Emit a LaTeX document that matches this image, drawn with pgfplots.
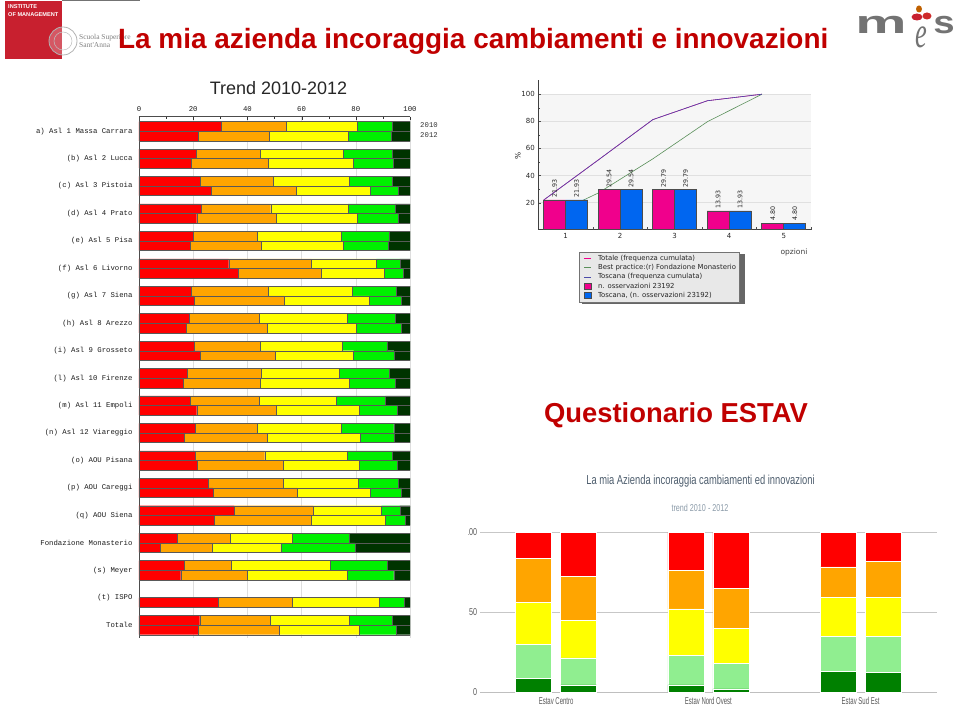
\documentclass[border=0pt]{standalone}
\usepackage{fontspec}
\usepackage{pgfplots}
\usepackage{pgfplotstable}
\pgfplotsset{compat=1.18}
\setmainfont{Liberation Sans}
\newfontfamily\mono{Liberation Mono}
\newfontfamily\dejavu{DejaVu Sans}
\newfontfamily\seriff{Liberation Serif}
\newcommand{\fs}[1]{\fontsize{#1pt}{#1pt}\selectfont}
\definecolor{cR}{HTML}{FF0000}
\definecolor{cO}{HTML}{FFA500}
\definecolor{cY}{HTML}{FFFF00}
\definecolor{cG}{HTML}{00F000}
\definecolor{cD}{HTML}{003300}
\definecolor{cLG}{HTML}{90EE90}
\definecolor{cDG}{HTML}{008000}
\definecolor{pinkb}{HTML}{F0008C}
\definecolor{blueb}{HTML}{0066F0}
\definecolor{titler}{HTML}{C00000}
\definecolor{logor}{HTML}{C8202F}
\definecolor{lineb}{HTML}{4A4AA8}
\definecolor{lineg}{HTML}{5A8F5A}
\definecolor{slate}{HTML}{4D5D6D}
\definecolor{slatel}{HTML}{8A9AA8}
\pgfplotstableread{
y v1 v2 v3 v4 v5
-0.175 30.4 24.0 26.1 13.1 6.4
0.175 21.9 26.1 29.2 15.8 7.0
0.825 21.2 23.6 30.6 17.9 6.7
1.175 19.2 28.5 31.4 14.7 6.2
1.825 22.7 26.8 28.1 15.7 6.7
2.175 26.7 31.3 27.3 10.5 4.2
2.825 23.0 25.6 28.6 17.3 5.5
3.175 21.3 29.4 30.0 15.1 4.2
3.825 20.0 23.6 30.9 17.7 7.8
4.175 19.0 26.1 30.3 16.7 7.9
4.825 33.1 30.6 23.9 8.7 3.7
5.175 36.7 30.7 23.1 6.9 2.6
5.825 19.2 28.5 31.0 16.1 5.2
6.175 20.3 33.3 31.4 11.9 3.1
6.825 18.5 25.8 32.5 17.7 5.5
7.175 17.6 29.8 32.8 16.4 3.4
7.825 20.4 24.2 30.3 16.8 8.3
8.175 22.7 27.5 29.0 14.9 5.9
8.825 17.9 27.2 28.7 18.4 7.8
9.175 16.4 28.2 33.0 17.1 5.3
9.825 18.8 25.4 28.7 18.0 9.1
10.175 21.3 29.2 30.8 13.9 4.8
10.825 20.8 22.9 30.8 19.5 6.0
11.175 16.7 30.6 34.2 12.6 5.9
11.825 20.8 25.6 30.4 16.8 6.4
12.175 21.4 31.8 28.1 13.9 4.8
12.825 25.7 27.5 27.7 14.7 4.4
13.175 27.3 31.1 26.9 11.6 3.1
13.825 35.1 29.2 25.1 6.9 3.7
14.175 27.8 35.7 27.3 7.4 1.8
14.825 14.0 19.6 23.1 21.0 22.3
15.175 7.9 19.2 25.2 27.4 20.3
15.825 16.7 17.3 36.7 21.0 8.3
16.175 15.4 24.4 36.9 17.3 6.0
17.175 29.4 27.3 32.0 9.1 2.2
17.825 22.4 26.0 29.1 16.1 6.4
18.175 21.9 29.7 29.7 13.7 5.0
}\lefttable
\pgfplotstableread{
x dg lg ye or re
-0.148 8.6 21.4 26.2 27.5 16.3
0.148 4.4 16.9 23.6 27.5 27.6
0.852 4.4 18.6 29.0 24.2 23.8
1.148 1.9 16.1 22.0 25.0 35.0
1.852 12.7 22.3 24.3 19.0 21.7
2.148 12.3 22.4 24.6 22.5 18.2
}\righttable
\begin{document}
\begin{tikzpicture}[x=1pt,y=1pt]
\path[use as bounding box] (0,0) rectangle (959,705);

% ---------- header
\draw[black!55,line width=1pt] (62,704.5) -- (140,704.5);
\fill[logor] (5,705-1) rectangle (62,705-59);
\node[font=\bfseries\fs{5.6},text=white,anchor=west,inner sep=0pt,align=left] at (8,705-11) {INSTITUTE\\[2.5pt]OF MANAGEMENT};
\draw[black!30,line width=0.8pt,fill=white,fill opacity=0.25] (63,705-41) circle (14);
\draw[black!25,line width=0.5pt] (63,705-41) circle (9);
\node[font=\seriff\fs{7.5},text=black!50,anchor=west,inner sep=0pt,align=left] at (79,705-41) {Scuola Superiore\\Sant'Anna};
\node[font=\bfseries\fs{27.9},text=titler,anchor=west,inner sep=0pt] at (118,705-41) {La mia azienda incoraggia cambiamenti e innovazioni};
\node[font=\fs{18},text=black!85,anchor=center,inner sep=0pt] at (278.5,705-88) {Trend 2010-2012};
\node[font=\bfseries\fs{27.4},text=titler,anchor=center,inner sep=0pt] at (676,705-415) {Questionario ESTAV};
% logo
\node[font=\bfseries\fs{32},text=black!55,anchor=center,inner sep=0pt,xscale=1.8] at (881,705-25) {m};
\node[font=\seriff\itshape\fs{44},text=black!55,anchor=center,inner sep=0pt,xscale=0.6] at (921,705-37) {e};
\node[font=\bfseries\fs{32},text=black!55,anchor=center,inner sep=0pt,xscale=1.2] at (944,705-25) {s};
\fill[logor] (917,705-17) ellipse (5.5 and 3.5);
\fill[logor!90!orange] (927,705-16) ellipse (4.5 and 3.5);
\fill[orange!75!black] (919,705-9) ellipse (3 and 3.5);

% ---------- left chart
\begin{axis}[
  at={(139pt,67pt)},anchor=south west,scale only axis,
  width=271pt,height=521.3pt,
  xbar stacked,bar width=9.6pt,
  y dir=reverse,
  xmin=0,xmax=100,ymin=-0.528,ymax=18.47,
  xtick={0,20,40,60,80,100},minor x tick num=1,
  axis x line*=top,
  axis y line*=left,
  ytick={0,...,18},
  yticklabels={a) Asl 1 Massa Carrara,(b) Asl 2 Lucca,(c) Asl 3 Pistoia,(d) Asl 4 Prato,(e) Asl 5 Pisa,(f) Asl 6 Livorno,(g) Asl 7 Siena,(h) Asl 8 Arezzo,(i) Asl 9 Grosseto,(l) Asl 10 Firenze,(m) Asl 11 Empoli,(n) Asl 12 Viareggio,(o) AOU Pisana,(p) AOU Careggi,(q) AOU Siena,Fondazione Monasterio,(s) Meyer,(t) ISPO,Totale},
  ytick style={draw=none},
  extra y ticks={0.44,1.44,2.44,3.44,4.44,5.44,6.44,7.44,8.44,9.44,10.44,11.44,12.44,13.44,14.44,15.44,16.44,17.44,18.44},
  extra y tick labels={},
  extra y tick style={major tick length=3pt,tick style={draw=black!80}},
  xmajorgrids,major grid style={draw=black!13,line width=0.5pt},
  major tick length=3pt,minor tick length=2pt,
  tick align=inside,
  x tick style={draw=black!80},
  tick label style={font=\mono\fs{7.3},text=black!90},
  /pgf/number format/assume math mode=true,
  x tick label style={yshift=2pt},
  y tick label style={xshift=-3pt},
  axis line style={draw=black!70,line width=0.5pt,-},
  every axis plot/.append style={draw=black!65,line width=0.4pt},
]
\addplot[fill=cR] table[x=v1,y=y]{\lefttable};
\addplot[fill=cO] table[x=v2,y=y]{\lefttable};
\addplot[fill=cY] table[x=v3,y=y]{\lefttable};
\addplot[fill=cG] table[x=v4,y=y]{\lefttable};
\addplot[fill=cD] table[x=v5,y=y]{\lefttable};
\end{axis}
\node[font=\mono\fs{7.3},text=black!80] at (429,705-125) {2010};
\node[font=\mono\fs{7.3},text=black!80] at (429,705-135) {2012};

% ---------- top right chart: band behind it, shadow of the legend
\fill[black!3.5] (538.3,705-229.7) rectangle (811,705-94.3);
\fill[black!60] (581.5,705-304) rectangle (744.8,705-254);
\begin{axis}[
  at={(538.3pt,475.3pt)},anchor=south west,scale only axis,
  width=272.7pt,height=149.7pt,
  xmin=0.5,xmax=5.5,ymin=0,ymax=110.5,
  xtick={1,2,3,4,5},
  ytick={20,40,60,80,100},minor y tick num=1,
  extra x ticks={1.5,2.5,3.5,4.5,5.5},extra x tick labels={},
  axis x line*=bottom,axis y line*=left,
  axis line style={draw=black!75,line width=0.6pt,-},
  ymajorgrids,major grid style={draw=black!12,line width=0.7pt},
  tick style={draw=black!70},
  major tick length=2.5pt,minor tick length=1.5pt,
  tick label style={font=\dejavu\fs{7},text=black!85},
  /pgf/number format/assume math mode=true,
  legend style={at={(0.1504,-0.147)},anchor=north west,fill=black!9,draw=black!55,
    font=\dejavu\fs{6.9},text=black!85,inner sep=1.5pt,
    row sep=-1.6pt,
    legend cell align=left,line width=0.5pt},
  legend image code/.code={\path[draw=none] (0pt,0pt) -- (15pt,0pt);\draw[#1,line width=1pt] (3pt,0pt) -- (10pt,0pt);},
  clip=false,
]
\addplot[color=pinkb,line width=0.6pt] coordinates {(0.6,21.93)(1.6,51.47)(2.6,81.26)(3.6,95.19)(4.6,100)};
\addlegendentry{Totale (frequenza cumulata)}
\addplot[color=lineg,line width=0.6pt] coordinates {(0.6,7.9)(1.6,27.1)(2.6,52.3)(3.6,79.7)(4.6,100)};
\addlegendentry{Best practice:(r) Fondazione Monasterio}
\addplot[color=lineb,line width=0.6pt] coordinates {(0.6,21.93)(1.6,51.47)(2.6,81.26)(3.6,95.19)(4.6,100)};
\addlegendentry{Toscana (frequenza cumulata)}
\pgfplotsset{
  barstyle/.style={ybar,bar width=22pt,draw=black!70,line width=0.6pt,
    nodes near coords,
    legend image code/.code={\path[draw=none,fill=none] (0pt,0pt) -- (15pt,0pt);\draw[draw=black!70,##1] (3.5pt,-2.8pt) rectangle (10pt,2.8pt);},
  }}
\addplot[barstyle,fill=pinkb,bar shift=-11pt,
   nodes near coords style={shift={(-11pt,0pt)},rotate=90,anchor=west,font=\dejavu\fs{6.3},text=black!85,inner sep=2pt,
      /pgf/number format/.cd,fixed,fixed zerofill,precision=2,assume math mode=true}]
   coordinates {(1,21.93)(2,29.54)(3,29.79)(4,13.93)(5,4.80)};
\addlegendentry{n. osservazioni 23192}
\addplot[barstyle,fill=blueb,bar shift=11pt,
   nodes near coords style={shift={(11pt,0pt)},rotate=90,anchor=west,font=\dejavu\fs{6.3},text=black!85,inner sep=2pt,
      /pgf/number format/.cd,fixed,fixed zerofill,precision=2,assume math mode=true}]
   coordinates {(1,21.93)(2,29.54)(3,29.79)(4,13.93)(5,4.80)};
\addlegendentry{Toscana, (n. osservazioni 23192)}
\end{axis}
\node[font=\dejavu\fs{7.5},rotate=90,text=black!85] at (518,705-156) {\%};
\node[font=\dejavu\fs{7.5},text=black!75] at (794,705-252.5) {opzioni};

% ---------- bottom right chart
\node[font=\fs{13},xscale=0.72,text=slate,inner sep=0pt] at (700.5,705-481) {La mia Azienda incoraggia cambiamenti ed innovazioni};
\node[font=\fs{10},xscale=0.72,text=slatel,inner sep=0pt] at (700,705-508) {trend 2010 - 2012};
\begin{axis}[
  at={(480pt,13pt)},anchor=south west,scale only axis,
  width=456.7pt,height=159.7pt,
  xmin=-0.5,xmax=2.5,ymin=0,ymax=100,
  ybar stacked,bar width=36pt,
  xtick={0,1,2},xticklabels={Estav Centro,Estav Nord Ovest,Estav Sud Est},
  extra x ticks={0.5,1.5},extra x tick labels={},
  extra x tick style={major tick length=3pt,tick style={draw=black!20}},
  ytick={0,50,100},
  ymajorgrids,major grid style={draw=black!22,line width=0.7pt},
  axis x line*=bottom,axis y line*=left,
  y axis line style={draw=none},
  x axis line style={draw=black!25,-,line width=0.7pt},
  x tick style={draw=none},y tick style={draw=none},
  /pgf/number format/assume math mode=true,
  x tick label style={font=\fs{10},xscale=0.6,text=black!65,yshift=-2pt},
  y tick label style={font=\fs{10},xscale=0.72,text=black!65,xshift=-0.5pt},
  every axis plot/.append style={draw=white,line width=0.5pt},
]
\addplot[fill=cDG] table[x=x,y=dg]{\righttable};
\addplot[fill=cLG] table[x=x,y=lg]{\righttable};
\addplot[fill=cY] table[x=x,y=ye]{\righttable};
\addplot[fill=cO] table[x=x,y=or]{\righttable};
\addplot[fill=cR] table[x=x,y=re]{\righttable};
\end{axis}
\fill[white] (450,705-525) rectangle (467.5,705-540);
\end{tikzpicture}
\end{document}
